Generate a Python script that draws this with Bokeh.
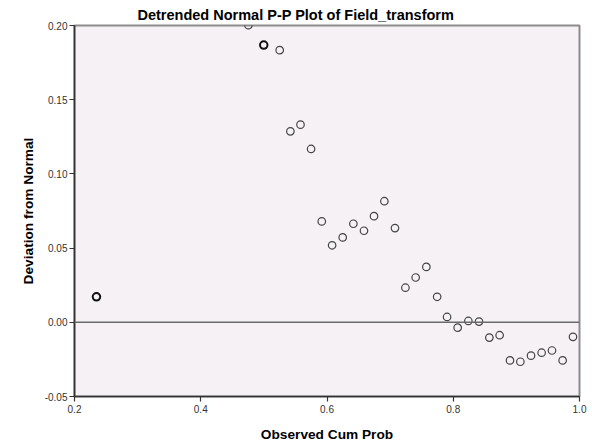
from bokeh.plotting import figure
from bokeh.models import ColumnDataSource, Span, FixedTicker, Range1d
from bokeh.embed import file_html
from bokeh.resources import INLINE

# Observed cumulative probability and deviation from the normal line
observed_cum_prob = [0.2348, 0.4755, 0.4998, 0.5251, 0.5420, 0.5580, 0.5748,
                     0.5917, 0.6081, 0.6249, 0.6418, 0.6586, 0.6745, 0.6909,
                     0.7077, 0.7242, 0.7405, 0.7574, 0.7745, 0.7902, 0.8070,
                     0.8239, 0.8408, 0.8572, 0.8735, 0.8899, 0.9063, 0.9232,
                     0.9400, 0.9564, 0.9733, 0.9897]
deviation = [0.0172, 0.2002, 0.1868, 0.1834, 0.1287, 0.1332, 0.1168,
             0.0680, 0.0519, 0.0572, 0.0664, 0.0617, 0.0715, 0.0816,
             0.0635, 0.0233, 0.0302, 0.0373, 0.0172, 0.0036, -0.0036,
             0.0009, 0.0005, -0.0103, -0.0087, -0.0257, -0.0266, -0.0225,
             -0.0205, -0.0190, -0.0257, -0.0098]
# number of cases sharing each plotted point
ties = [3, 1, 2, 1, 1, 1, 1, 1, 1, 1, 1, 1, 1, 1, 1, 1, 1, 1, 1, 1, 1,
        1, 1, 1, 1, 1, 1, 1, 1, 1, 1, 1]

x_ticks = [0.2, 0.4, 0.6, 0.8, 1.0]
y_ticks = [-0.05, 0.0, 0.05, 0.10, 0.15, 0.20]

FONT = "Liberation Sans"

src = ColumnDataSource(dict(
    x=observed_cum_prob,
    y=deviation,
    lw=[1.2 if t == 1 else 2.0 for t in ties],
    lc=["#444444" if t == 1 else "#111111" for t in ties],
))

p = figure(width=592, height=444, output_backend="svg", toolbar_location=None,
           x_range=Range1d(0.2, 1.0), y_range=Range1d(-0.05, 0.20),
           min_border_left=74, min_border_right=13, min_border_top=25,
           min_border_bottom=46)

p.background_fill_color = "#F5F1F5"
p.border_fill_color = "white"
p.outline_line_color = "#8C8C8C"
p.outline_line_width = 2
p.xgrid.visible = False
p.ygrid.visible = False

# title centred on the whole canvas rather than on the plot frame
p.title.text = "Detrended Normal P-P Plot of Field_transform"
p.title.text_font = FONT
p.title.text_font_size = "14.5px"
p.title.text_font_style = "bold"
p.title.align = "left"
p.title.text_color = "#000000"
p.title.offset = 63
p.title.standoff = 6

zero = Span(location=0, dimension="width", line_color="#6B6B6B", line_width=1.6)
p.add_layout(zero)

p.scatter("x", "y", source=src, size=7.5, marker="circle", fill_color=None,
          line_color="lc", line_width="lw")

for ax in (p.xaxis[0], p.yaxis[0]):
    ax.axis_line_color = "#333333"
    ax.axis_line_width = 1.6
    ax.major_tick_line_color = "#333333"
    ax.major_tick_line_width = 1.2
    ax.major_tick_out = 5
    ax.major_tick_in = 0
    ax.minor_tick_line_color = None
    ax.major_label_text_font = FONT
    ax.major_label_text_font_size = "10px"
    ax.major_label_text_color = "#333333"
    ax.axis_label_text_font = FONT
    ax.axis_label_text_font_size = "13.7px"
    ax.axis_label_text_font_style = "bold"
    ax.axis_label_text_color = "#000000"

p.xaxis.ticker = FixedTicker(ticks=x_ticks)
p.yaxis.ticker = FixedTicker(ticks=y_ticks)
p.xaxis.major_label_overrides = {t: f"{t:.1f}" for t in x_ticks}
p.yaxis.major_label_overrides = {t: f"{t:.2f}" for t in y_ticks}
p.xaxis.axis_label = "Observed Cum Prob"
p.yaxis.axis_label = "Deviation from Normal"
p.xaxis.major_label_standoff = 3
p.yaxis.major_label_standoff = 2
p.xaxis.axis_label_standoff = 11
p.yaxis.axis_label_standoff = 6

open("out.html", "w").write(file_html(p, INLINE))
